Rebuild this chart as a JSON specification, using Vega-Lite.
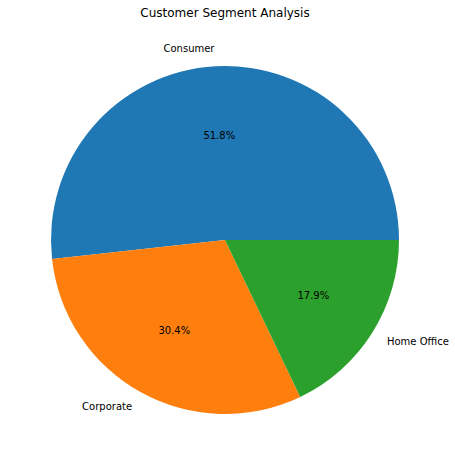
{
  "$schema": "https://vega.github.io/schema/vega-lite/v6.json",
  "width": 450,
  "height": 420,
  "autosize": {"type": "none"},
  "padding": {"left": 0, "top": 30, "right": 5, "bottom": 15},
  "background": "white",
  "title": {"text": "Customer Segment Analysis", "anchor": "middle", "frame": "group", "fontSize": 12, "font": "DejaVu Sans", "fontWeight": "normal", "color": "black", "offset": 10},
  "config": {"view": {"stroke": null}},
  "data": {"values": [
    {"segment": "Consumer", "share": 0.518},
    {"segment": "Corporate", "share": 0.304},
    {"segment": "Home Office", "share": 0.179}
  ]},
  "encoding": {
    "theta": {"field": "share", "type": "quantitative", "stack": true, "scale": {"range": [1.5707963, -4.7123890]}},
    "order": {"field": "segment", "sort": "ascending"}
  },
  "layer": [
    {
      "mark": {"type": "arc", "outerRadius": 174, "stroke": null},
      "encoding": {
        "color": {"field": "segment", "type": "nominal", "legend": null, "scale": {"domain": ["Consumer", "Corporate", "Home Office"], "range": ["#1f77b4", "#ff7f0e", "#2ca02c"]}}
      }
    },
    {
      "mark": {"type": "text", "radius": 104.4, "fontSize": 10, "font": "DejaVu Sans", "color": "black", "align": "center", "baseline": "middle"},
      "encoding": {"text": {"field": "share", "type": "quantitative", "format": ".1%"}}
    },
    {
      "mark": {"type": "text", "radius": 191.4, "fontSize": 10, "font": "DejaVu Sans", "color": "black", "align": "right", "baseline": "middle"},
      "encoding": {"text": {"condition": {"test": "datum.segment !== 'Home Office'", "field": "segment"}, "value": ""}}
    },
    {
      "mark": {"type": "text", "radius": 191.4, "fontSize": 10, "font": "DejaVu Sans", "color": "black", "align": "left", "baseline": "middle"},
      "encoding": {"text": {"condition": {"test": "datum.segment === 'Home Office'", "field": "segment"}, "value": ""}}
    }
  ]
}
